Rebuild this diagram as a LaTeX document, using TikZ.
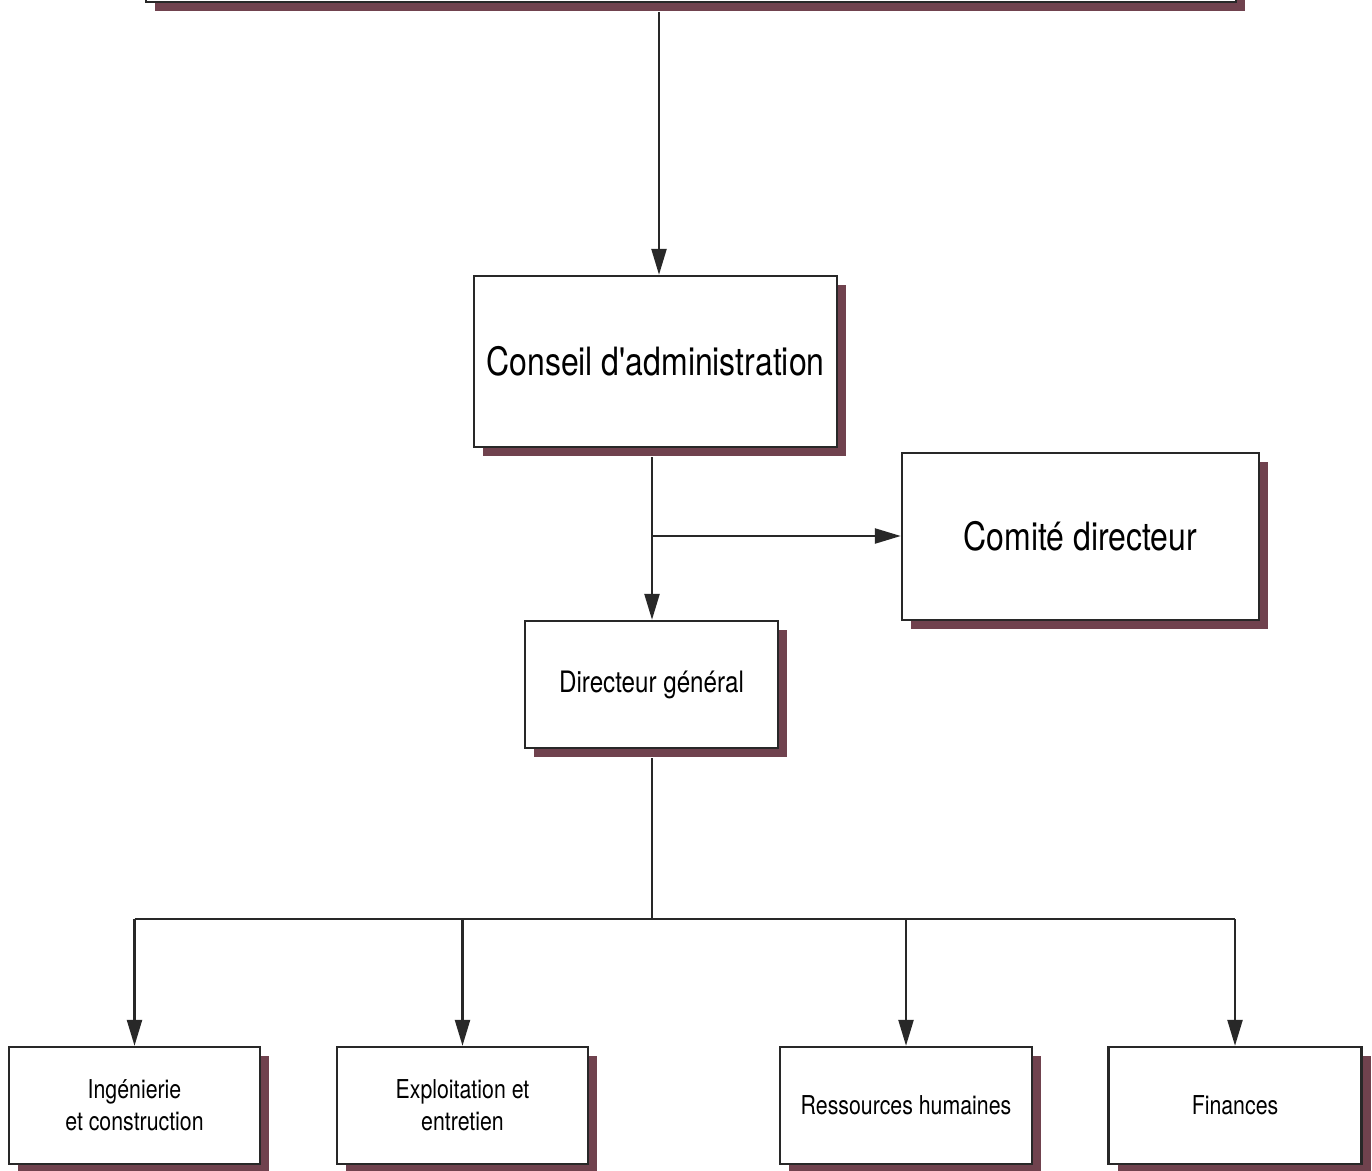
\documentclass[tikz,border=0pt]{standalone}
\usepackage{fontspec}
\setmainfont[FakeStretch=0.82,Ligatures=TeXOff]{TeX Gyre Heros}
\usetikzlibrary{arrows.meta,shadows}
\definecolor{shadowred}{RGB}{112,66,78}
\definecolor{linegray}{RGB}{40,40,40}
\begin{document}
\begin{tikzpicture}[x=1pt,y=-1pt,
  orgbox/.style={draw=linegray, line width=2.4pt, fill=white, inner sep=0pt, align=center,
    drop shadow={shadow xshift=9pt, shadow yshift=-9pt, fill=shadowred, opacity=1}},
  bigtext/.style={font=\fontsize{39}{47}\selectfont},
  midtext/.style={font=\fontsize{29.5}{35}\selectfont},
  smalltext/.style={font=\fontsize{26}{32}\selectfont},
  conn/.style={draw=linegray, line width=2.4pt},
  arr/.style={conn, -{Triangle[length=26pt,width=15pt]}}]
\useasboundingbox (0,0) rectangle (1372,1170);
\fill[white] (0,0) rectangle (1372,1170);

\coordinate (tx) at (659,0);
\coordinate (cx) at (652,0);
\coordinate (br) at (652,536);
\coordinate (bus) at (652,919);

% nodes
\node[orgbox, minimum width=1090pt, minimum height=62pt] (top) at (691,-29) {};
\node[orgbox, bigtext, minimum width=363pt, minimum height=171pt] (conseil) at (655.5,361.5) {Conseil d'administration};
\node[orgbox, bigtext, minimum width=357pt, minimum height=167pt] (comite) at (1080.5,536.5) {Comité directeur};
\node[orgbox, midtext, minimum width=253pt, minimum height=127pt] (dg) at (651.5,684.5) {Directeur général};
\node[orgbox, smalltext, minimum width=251pt, minimum height=117pt] (ing) at (134.5,1105.5) {Ingénierie\\et construction};
\node[orgbox, smalltext, minimum width=251pt, minimum height=117pt] (exp) at (462.5,1105.5) {Exploitation et\\entretien};
\node[orgbox, smalltext, minimum width=252pt, minimum height=117pt] (rh) at (906,1105.5) {Ressources humaines};
\node[orgbox, smalltext, minimum width=253pt, minimum height=117pt] (fin) at (1235,1105.5) {Finances};

% connectors
\draw[arr] ([yshift=-9pt]tx |- top.south) -- (tx |- conseil.north);
\draw[arr] ([yshift=-9pt]cx |- conseil.south) -- (cx |- dg.north);
\draw[arr] (br) -- (br -| comite.west);
\draw[conn] ([yshift=-9pt]cx |- dg.south) -- (bus);
\draw[conn] (ing.north |- bus) -- (fin.north |- bus);
\draw[arr] (ing.north |- bus) -- (ing.north);
\draw[arr] (exp.north |- bus) -- (exp.north);
\draw[arr] (rh.north |- bus) -- (rh.north);
\draw[arr] (fin.north |- bus) -- (fin.north);
\end{tikzpicture}
\end{document}
